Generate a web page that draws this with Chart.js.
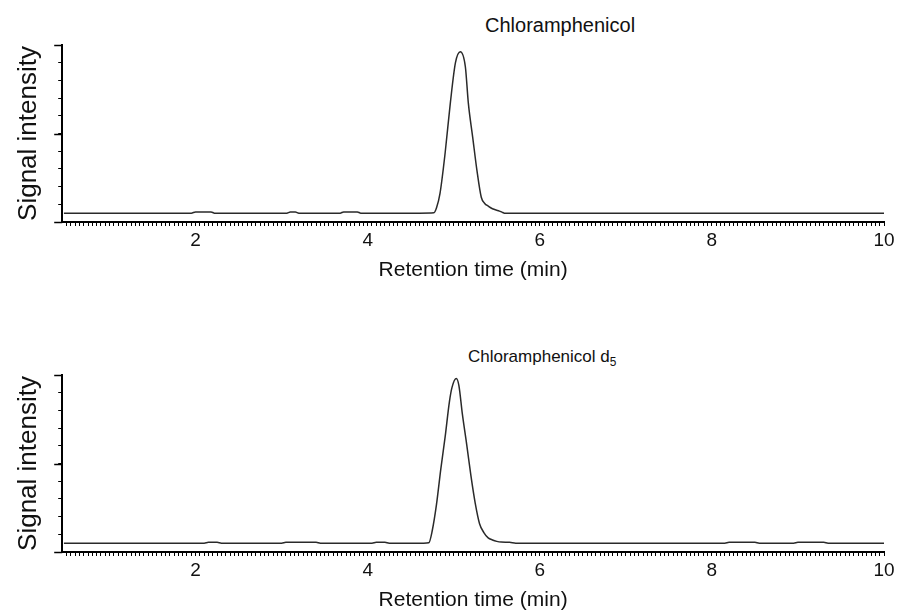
<!DOCTYPE html>
<html>
<head>
<meta charset="utf-8">
<script src="https://cdn.jsdelivr.net/npm/chart.js@4.4.1/dist/chart.umd.min.js"></script>
<style>
  body { margin: 0; background: #fff; font-family: "Liberation Sans", Arial, sans-serif; }
  #page { position: relative; width: 900px; height: 613px; overflow: hidden; }
  .box { position: absolute; left: 0; width: 900px; height: 290px; }
  .peak { position: absolute; color: #111; white-space: nowrap; }
  .peak sub { font-size: 0.7em; }
</style>
</head>
<body>
<div id="page">
  <div class="peak" style="left:485px; top:14px; font-size:20px;">Chloramphenicol</div>
  <div class="peak" style="left:468px; top:347px; font-size:17px;">Chloramphenicol d<sub>5</sub></div>
  <div class="box" style="top:0px;"><canvas id="topChart"></canvas></div>
  <div class="box" style="top:330px;"><canvas id="bottomChart"></canvas></div>
</div>
<script>
// chromatogram traces (time in min, relative intensity)
const timeTop = [0.47, 1.95, 2.0, 2.18, 2.22, 3.06, 3.1, 3.16, 3.2, 3.68, 3.72, 3.88, 3.92,
    4.6, 4.77, 4.8, 4.84, 4.9, 4.96, 5.02, 5.077, 5.135, 5.17, 5.22, 5.27, 5.32, 5.36,
    5.4, 5.45, 5.52, 5.56, 5.59, 10.0];
const signalTop = [0.05, 0.05, 0.057, 0.057, 0.05, 0.05, 0.056, 0.056, 0.05, 0.05, 0.057, 0.057, 0.05,
    0.05, 0.052, 0.08, 0.16, 0.39, 0.67, 0.9, 0.962, 0.877, 0.67, 0.48, 0.29, 0.14, 0.105,
    0.09, 0.075, 0.064, 0.056, 0.05, 0.05];

const timeBottom = [0.47, 2.1, 2.15, 2.25, 2.3, 3.0, 3.05, 3.4, 3.45, 4.05, 4.1, 4.2, 4.25,
    4.65, 4.71, 4.75, 4.8, 4.85, 4.9, 4.95, 4.98, 5.03, 5.06, 5.1, 5.15, 5.2, 5.25, 5.3,
    5.35, 5.4, 5.45, 5.5, 5.55, 5.65, 5.72, 8.15, 8.2, 8.5, 8.55, 8.95, 9.0, 9.3, 9.35, 10.0];
const signalBottom = [0.05, 0.05, 0.055, 0.055, 0.05, 0.05, 0.055, 0.055, 0.05, 0.05, 0.055, 0.055, 0.05,
    0.05, 0.052, 0.12, 0.27, 0.47, 0.65, 0.85, 0.93, 0.98, 0.94, 0.78, 0.61, 0.43, 0.275, 0.16,
    0.11, 0.08, 0.068, 0.06, 0.056, 0.055, 0.05, 0.05, 0.055, 0.055, 0.05, 0.05, 0.055, 0.055, 0.05, 0.05];

const xTickLabels = [2, 4, 6, 8, 10];
const xMin = 0.45, xMax = 10, xMinorStep = 0.05;
const yMajorTicks = [0, 0.5, 1];
const yMinorStep = 0.1;

const font = "'Liberation Sans', Arial, sans-serif";

// longer marks for the major y ticks
const majorTickPlugin = {
    id: 'majorTicks',
    afterDraw(chart) {
        const y = chart.scales.y;
        const left = chart.chartArea.left;
        const ctx = chart.ctx;
        ctx.save();
        ctx.strokeStyle = '#000';
        ctx.lineWidth = 1.5;
        yMajorTicks.forEach(function (v) {
            const py = Math.round(y.getPixelForValue(v)) + 0.5;
            ctx.beginPath();
            ctx.moveTo(left - 8, py);
            ctx.lineTo(left, py);
            ctx.stroke();
        });
        ctx.restore();
    }
};

function makeChart(id, times, signal) {
    const points = times.map(function (t, i) { return { x: t, y: signal[i] }; });
    return new Chart(document.getElementById(id).getContext('2d'), {
        type: 'line',
        data: {
            datasets: [{
                data: points,
                borderColor: '#2a2a2a',
                borderWidth: 1.5,
                pointRadius: 0,
                cubicInterpolationMode: 'monotone',
                fill: false
            }]
        },
        options: {
            responsive: true,
            maintainAspectRatio: false,
            animation: false,
            events: [],
            layout: { padding: { left: 0, right: 16, top: 45, bottom: 7 } },
            plugins: { legend: { display: false }, tooltip: { enabled: false } },
            scales: {
                x: {
                    type: 'linear',
                    min: xMin,
                    max: xMax,
                    afterBuildTicks: function (scale) {
                        const ticks = [];
                        for (let v = 0.5; v <= xMax + 1e-9; v += xMinorStep) {
                            ticks.push({ value: Math.round(v * 100) / 100 });
                        }
                        scale.ticks = ticks;
                    },
                    border: { display: true, color: '#000', width: 2 },
                    grid: { drawOnChartArea: false, drawTicks: true, tickLength: 4, color: '#000', tickWidth: 1 },
                    ticks: {
                        autoSkip: false,
                        maxRotation: 0,
                        padding: 3,
                        color: '#111',
                        font: { family: font, size: 19 },
                        callback: function (v) { return xTickLabels.includes(v) ? String(v) : ''; }
                    },
                    title: {
                        display: true,
                        text: 'Retention time (min)',
                        color: '#111',
                        font: { family: font, size: 21 },
                        padding: { top: 3, bottom: 0 }
                    }
                },
                y: {
                    min: 0,
                    max: 1,
                    ticks: { display: false, stepSize: yMinorStep },
                    border: { display: true, color: '#000', width: 2 },
                    grid: { drawOnChartArea: false, drawTicks: true, tickLength: 4, color: '#000', tickWidth: 1 },
                    title: {
                        display: true,
                        text: 'Signal intensity',
                        color: '#111',
                        font: { family: font, size: 26 },
                        padding: { top: 13, bottom: 14 }
                    }
                }
            }
        },
        plugins: [majorTickPlugin]
    });
}

makeChart('topChart', timeTop, signalTop);
makeChart('bottomChart', timeBottom, signalBottom);
</script>
</body>
</html>
